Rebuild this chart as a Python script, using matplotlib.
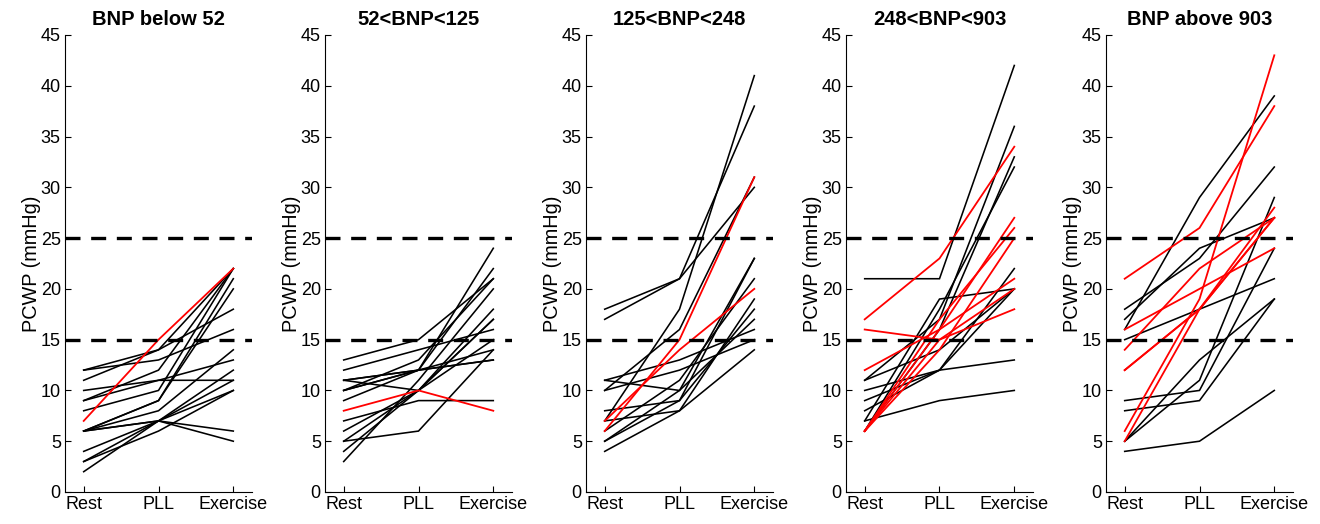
import matplotlib
matplotlib.use("Agg")
import matplotlib.pyplot as plt

plt.rcParams['font.family'] = ['Liberation Sans', 'DejaVu Sans']

titles = ["BNP below 52", "52<BNP<125", "125<BNP<248", "248<BNP<903", "BNP above 903"]
stages = ["Rest", "PLL", "Exercise"]
thresholds = [15, 25]

black_1 = [[12, 14, 22], [12, 13, 16], [11, 14, 18], [10, 11, 11], [9, 12, 22], [9, 11, 13],
           [8, 10, 22], [6, 9, 21], [6, 9, 20], [6, 8, 14], [6, 7, 6], [6, 7, 12],
           [4, 7, 5], [3, 7, 11], [3, 6, 10], [2, 7, 10]]
red_1 = [[7, 15, 22]]

black_2 = [[13, 15, 21], [12, 14, 16], [11, 12, 13], [11, 10, 17], [11, 12, 22], [10, 13, 21],
           [10, 12, 24], [10, 12, 13], [9, 12, 14], [7, 9, 9], [6, 10, 17], [5, 6, 14],
           [5, 10, 18], [4, 10, 15], [3, 11, 20]]
red_2 = [[8, 10, 8]]

black_3 = [[18, 21, 30], [17, 21, 38], [7, 18, 41], [11, 13, 16], [11, 10, 23], [10, 12, 15],
           [10, 16, 31], [8, 9, 23], [7, 8, 19], [6, 11, 21], [5, 10, 17], [5, 9, 18],
           [4, 8, 14]]
red_3 = [[6, 15, 31], [7, 14, 20]]

black_4 = [[21, 21, 42], [11, 17, 36], [11, 14, 20], [10, 12, 22], [9, 12, 13], [8, 12, 20],
           [7, 9, 10], [7, 19, 20], [6, 18, 32], [6, 16, 33]]
red_4 = [[17, 23, 34], [16, 15, 18], [12, 16, 21], [6, 16, 27], [6, 17, 26], [6, 14, 25],
         [6, 15, 20]]

black_5 = [[18, 23, 32], [17, 24, 27], [16, 29, 39], [15, 18, 21], [9, 10, 24], [8, 9, 19],
           [5, 13, 19], [5, 11, 29], [4, 5, 10]]
red_5 = [[21, 26, 38], [16, 20, 24], [14, 22, 27], [12, 18, 27], [12, 18, 28], [6, 19, 43],
         [5, 18, 27]]

blacks = [black_1, black_2, black_3, black_4, black_5]
reds = [red_1, red_2, red_3, red_4, red_5]

W, H = 1320, 524
fig = plt.figure(figsize=(W / 100, H / 100), dpi=100)
lefts = [65, 325, 586, 846, 1106]
ax_w = 187
ax_bottom = 32
ax_h = 457

xs = [1, 2, 3]
for i in range(5):
    ax = fig.add_axes([lefts[i] / W, ax_bottom / H, ax_w / W, ax_h / H])
    for row in blacks[i]:
        ax.plot(xs, row, color='black', lw=1.15, solid_joinstyle='miter')
    for row in reds[i]:
        ax.plot(xs, row, color='#ff0000', lw=1.3, solid_joinstyle='miter')
    for t in thresholds:
        ax.axhline(t, color='black', lw=2.4, dashes=(4.5, 3.2))
    ax.set_xlim(0.75, 3.25)
    ax.set_ylim(0, 45)
    ax.set_yticks(range(0, 46, 5))
    ax.set_xticks(xs)
    ax.set_xticklabels(stages)
    ax.spines['top'].set_visible(False)
    ax.spines['right'].set_visible(False)
    ax.spines['left'].set_linewidth(0.8)
    ax.spines['bottom'].set_linewidth(0.8)
    ax.tick_params(direction='in', length=4, width=0.8, labelsize=13, pad=3)
    ax.set_ylabel("PCWP (mmHg)", fontsize=14.3, labelpad=0)
    ax.set_title(titles[i], fontsize=14.5, fontweight='bold', pad=7)

fig.savefig("out.png", dpi=100)
